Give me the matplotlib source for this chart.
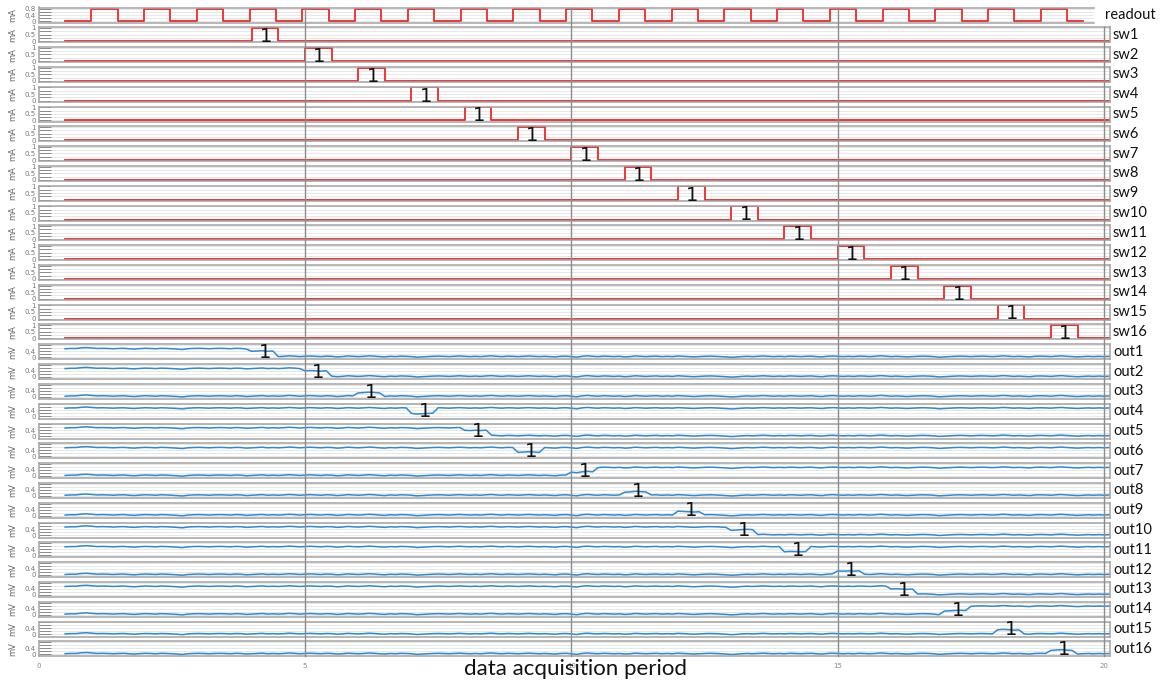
import numpy as np
import matplotlib.pyplot as plt
from matplotlib.lines import Line2D

# -----------------------------
# data
# -----------------------------
readout_on = [1, 2, 3, 4, 5, 6, 7, 8, 9, 10, 11, 12, 13, 14, 15, 16, 17, 18, 19]
readout_high = 0.8
pulse_width = 0.5
t_start, t_end = 0.5, 20.1
readout_end = 19.8

sw_names = ["sw1", "sw2", "sw3", "sw4", "sw5", "sw6", "sw7", "sw8",
            "sw9", "sw10", "sw11", "sw12", "sw13", "sw14", "sw15", "sw16"]
sw_on = [4, 5, 6, 7, 8, 9, 10, 11, 12, 13, 14, 15, 16, 17, 18, 19]
sw_high = 1.0

out_names = ["out1", "out2", "out3", "out4", "out5", "out6", "out7", "out8",
             "out9", "out10", "out11", "out12", "out13", "out14", "out15", "out16"]
out_event = [4, 5, 6, 7, 8, 9, 10, 11, 12, 13, 14, 15, 16, 17, 18, 19]
out_pre = [0.55, 0.55, 0.03, 0.55, 0.55, 0.55, 0.03, 0.03,
           0.03, 0.55, 0.55, 0.03, 0.55, 0.03, 0.03, 0.03]
out_mid = [0.38, 0.38, 0.25, 0.20, 0.38, 0.25, 0.25, 0.25,
           0.25, 0.38, 0.22, 0.25, 0.38, 0.25, 0.28, 0.25]
out_post = [0.03, 0.03, 0.03, 0.55, 0.03, 0.55, 0.55, 0.03,
            0.03, 0.03, 0.55, 0.03, 0.03, 0.55, 0.03, 0.03]

# shared wiggle seen on every out trace (mV), sampled every 0.1 from 0.5 to 20.1
out_noise = [
    0.00, 0.02, 0.02, 0.06, 0.08, 0.05, 0.02, 0.03, 0.02, 0.00,
    0.02, 0.03, 0.00, -0.02, 0.01, 0.03, 0.02, 0.00, 0.03, 0.02,
    0.00, -0.02, -0.05, 0.00, 0.02, 0.03, 0.02, 0.00, 0.02, 0.03,
    0.02, 0.00, 0.03, 0.02, -0.02, 0.00, 0.02, 0.04, 0.00, 0.02,
    0.00, 0.02, 0.05, 0.03, 0.00, 0.02, 0.04, 0.02, 0.00, 0.03,
    0.02, -0.02, 0.00, 0.04, 0.02, 0.00, 0.02, 0.05, 0.03, 0.00,
    -0.02, 0.02, 0.00, 0.03, 0.02, 0.00, -0.04, -0.02, 0.00, 0.02,
    0.03, 0.02, 0.00, 0.02, 0.04, 0.02, 0.00, 0.02, 0.00, 0.03,
    0.05, 0.02, 0.00, 0.03, 0.02, 0.00, 0.02, 0.04, 0.02, 0.00,
    0.02, 0.00, -0.02, 0.02, 0.03, 0.00, -0.04, 0.02, 0.05, 0.02,
    0.00, 0.03, 0.02, 0.00, 0.02, -0.02, 0.00, 0.04, 0.02, 0.00,
    0.02, 0.03, 0.00, 0.02, 0.00, 0.04, 0.02, 0.00, -0.02, 0.00,
    0.02, 0.03, 0.02, 0.00, -0.02, -0.05, -0.03, 0.00, 0.02, 0.00,
    0.02, 0.04, 0.02, 0.00, 0.02, 0.00, 0.03, 0.02, 0.00, 0.02,
    0.03, 0.00, -0.02, 0.02, 0.04, 0.02, 0.00, 0.02, 0.00, 0.03,
    0.02, 0.00, 0.02, 0.05, 0.03, 0.00, 0.02, 0.00, -0.02, 0.00,
    0.02, 0.03, 0.02, 0.00, -0.04, -0.02, 0.00, 0.02, 0.03, 0.02,
    0.00, 0.02, 0.03, 0.02, 0.00, 0.02, 0.05, 0.03, 0.00, 0.02,
    0.00, -0.02, 0.02, 0.03, 0.02, 0.00, 0.03, 0.05, 0.02, 0.00,
    -0.02, 0.00, 0.02, 0.00, 0.02, 0.00, 0.02,
]

x_grid = [5, 10, 15, 20]

# -----------------------------
# layout (pixels)
# -----------------------------
W, H = 1166, 683
L_PX, R_PX = 38.5, 1109.5
TOP_PX, PITCH, PANEL_H = 7.5, 19.81, 15.0
PX_PER_UNIT = (R_PX - L_PX) / t_end

RED = "#f0282a"
BLUE = "#2e8ad4"
SPINE = "#a3a3a3"
GRID = "#e4e4e4"
VGRID = "#8c8c8c"


def square_wave(ons, high, start, end):
    xs, ys = [start], [0.0]
    for on in ons:
        xs += [on, on, on + pulse_width, on + pulse_width]
        ys += [0.0, high, high, 0.0]
    xs.append(end)
    ys.append(0.0)
    return xs, ys


def style_panel(ax, xmax, unit, yticks, ylabels, ylim, width_px):
    ax.set_xlim(0, xmax)
    ax.set_ylim(*ylim)
    ax.set_yticks(yticks)
    ax.set_yticklabels(ylabels)
    ax.tick_params(axis="y", direction="in", length=8.5, width=0.7,
                   color="#8a8a8a", labelsize=5, labelcolor="#777777", pad=2)
    ax.set_xticks(x_grid)
    ax.tick_params(axis="x", length=0, labelbottom=False)
    ax.grid(axis="y", color=GRID, lw=0.6)
    ax.set_axisbelow(True)
    for s in ax.spines.values():
        s.set_color(SPINE)
        s.set_linewidth(1.1)
    ax.set_ylabel(unit, fontsize=6, color="#666666")
    ax.yaxis.set_label_coords((17 - L_PX) / width_px, 0.5)


fig = plt.figure(figsize=(W / 100, H / 100), dpi=100)

names = ["readout"] + sw_names + out_names
axes = []
for i in range(len(names)):
    y_top = TOP_PX + i * PITCH
    right = L_PX + readout_end * PX_PER_UNIT if i == 0 else R_PX
    ax = fig.add_axes([L_PX / W, 1 - (y_top + PANEL_H) / H,
                       (right - L_PX) / W, PANEL_H / H])
    axes.append(ax)
    label_x = 1105 if i == 0 else 1113
    fig.text(label_x / W, 1 - (y_top + PANEL_H / 2) / H, names[i],
             fontsize=10.5, family="Lato", va="center", ha="left", color="#111111")

# continuous vertical guide lines through all panels
bottom_px = TOP_PX + (len(names) - 1) * PITCH + PANEL_H
for xv in x_grid:
    x_fig = (L_PX + xv * PX_PER_UNIT) / W
    top_px = TOP_PX if xv <= readout_end else TOP_PX + PITCH
    fig.add_artist(Line2D([x_fig, x_fig], [1 - top_px / H, 1 - bottom_px / H],
                          color=VGRID, lw=1.0, zorder=0.5))

# readout
ax = axes[0]
rx, ry = square_wave(readout_on, readout_high, t_start, readout_end)
ax.plot(rx, ry, color=RED, lw=1.3)
style_panel(ax, readout_end, "mA", [0, 0.2, 0.4, 0.6, 0.8],
            ["0", "", "0.4", "", "0.8"], (-0.07, 0.87),
            readout_end * PX_PER_UNIT)
ax.spines["right"].set_visible(False)

# switches
for k, on in enumerate(sw_on):
    ax = axes[1 + k]
    sx, sy = square_wave([on], sw_high, t_start, t_end)
    ax.plot(sx, sy, color=RED, lw=1.3)
    style_panel(ax, t_end, "mA", [0, 0.25, 0.5, 0.75, 1.0],
                ["0", "", "0.5", "", "1"], (-0.08, 1.05), R_PX - L_PX)
    ax.text(on + 0.27, 0.38, "1", transform=ax.get_xaxis_transform(),
            fontsize=14, ha="center", va="center", color="#111111")

# outputs
t_out = np.linspace(t_start, t_end, len(out_noise))
noise = np.array(out_noise)
for k, ev in enumerate(out_event):
    ax = axes[17 + k]
    level = np.where(t_out < ev - 1e-6, out_pre[k],
                     np.where(t_out < ev + pulse_width - 1e-6, out_mid[k], out_post[k]))
    ax.plot(t_out, level + noise, color=BLUE, lw=1.1)
    style_panel(ax, t_end, "mV", [0, 0.2, 0.4, 0.6, 0.8],
                ["0", "", "0.4", "", ""], (-0.15, 0.85), R_PX - L_PX)
    ax.text(ev + 0.25, 0.45, "1", transform=ax.get_xaxis_transform(),
            fontsize=14, ha="center", va="center", color="#111111")

# bottom x tick labels
ax = axes[-1]
ax.set_xticks([0, 5, 10, 15, 20])
ax.tick_params(axis="x", labelbottom=True, labelsize=5, labelcolor="#8a8a8a", pad=5)

fig.text(575 / W, 1 - 669 / H, "data acquisition period", fontsize=16,
         family="Lato", ha="center", va="center", color="#111111")

fig.savefig("out.png", dpi=100)
